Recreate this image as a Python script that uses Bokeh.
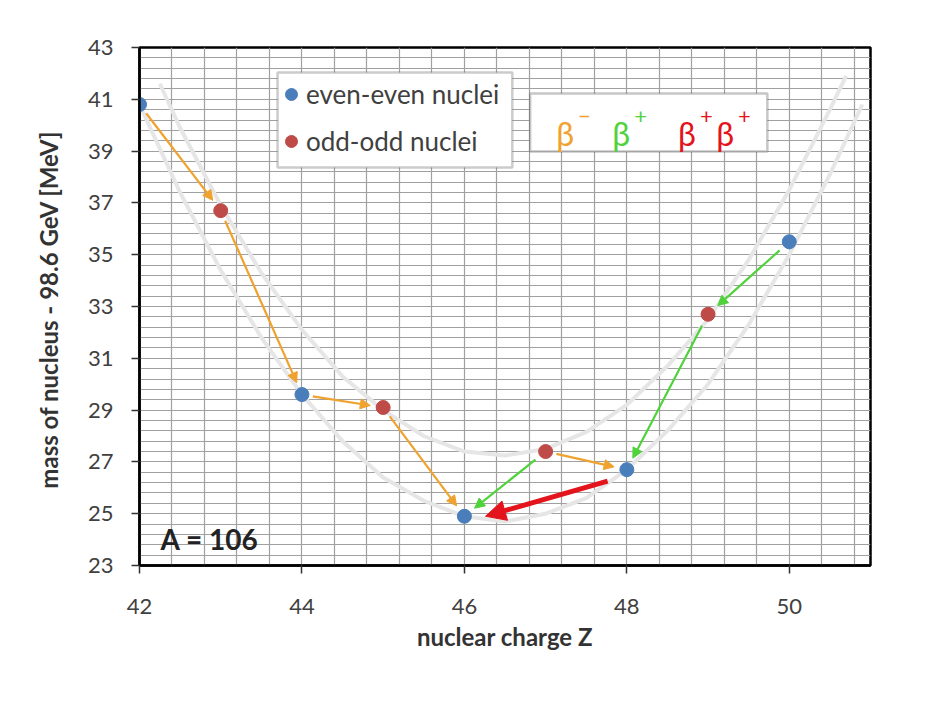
import math
from bokeh.plotting import figure
from bokeh.models import (Arrow, NormalHead, BoxAnnotation, Label, Legend, LegendItem,
                          FixedTicker, Range1d)
from bokeh.embed import file_html
from bokeh.resources import INLINE

# ---------------- data ----------------
even_Z = [42, 44, 46, 48, 50]
even_M = [40.8, 29.6, 24.9, 26.7, 35.5]
odd_Z = [43, 45, 47, 49]
odd_M = [36.7, 29.1, 27.4, 32.7]

# guide curves
curve_even_Z = [42.0, 42.5, 43.0, 43.5, 44.0, 44.5, 45.0, 45.5, 46.0, 46.5, 47.0, 47.5,
                48.0, 48.5, 49.0, 49.5, 50.0, 50.5, 50.9]
curve_even_M = [40.8, 37.4, 34.4, 31.8, 29.6, 27.8, 26.4, 25.5, 24.9, 24.7, 25.0, 25.6,
                26.7, 28.2, 30.0, 32.3, 35.0, 38.1, 40.8]
curve_odd_Z = [42.25, 42.5, 43.0, 43.5, 44.0, 44.5, 45.0, 45.5, 46.0, 46.5, 47.0, 47.5,
               48.0, 48.5, 49.0, 49.5, 50.0, 50.5, 50.7]
curve_odd_M = [41.6, 39.9, 36.9, 34.3, 32.1, 30.3, 29.0, 28.0, 27.4, 27.25, 27.5, 28.15,
               29.2, 30.7, 32.5, 34.8, 37.5, 40.6, 41.9]

beta_minus = [(42, 43), (43, 44), (44, 45), (45, 46), (47, 48)]
beta_plus = [(47, 46), (49, 48), (50, 49)]
double_beta = [(48, 46)]

x_ticks = [42, 44, 46, 48, 50]
y_ticks = [23, 25, 27, 29, 31, 33, 35, 37, 39, 41, 43]

mass = dict(zip(even_Z + odd_Z, even_M + odd_M))

# ---------------- figure ----------------
X0, X1, Y0, Y1 = 42, 51, 23, 43
FW, FH = 731, 518
p = figure(width=925, height=712, output_backend="svg", toolbar_location=None,
           x_range=Range1d(X0, X1), y_range=Range1d(Y0, Y1),
           min_border_left=139, min_border_right=55, min_border_top=47, min_border_bottom=147)
p.background_fill_color = "white"
p.border_fill_color = "white"
p.outline_line_color = "black"
p.outline_line_width = 2.5

FONT = "Lato"
p.xaxis.ticker = FixedTicker(ticks=x_ticks)
p.yaxis.ticker = FixedTicker(ticks=y_ticks)
p.xgrid.ticker = FixedTicker(ticks=[42 + 0.4 * i for i in range(23)])
p.ygrid.ticker = FixedTicker(ticks=[23 + 0.4 * i for i in range(51)])
for g in (p.xgrid, p.ygrid):
    g.grid_line_color = "#a0a0a0"
    g.grid_line_width = 1.2

for ax in (p.xaxis, p.yaxis):
    ax.axis_line_color = "black"
    ax.axis_line_width = 2.5
    ax.major_tick_line_color = "#333333"
    ax.major_tick_line_width = 1.5
    ax.major_tick_out = 8
    ax.major_tick_in = 0
    ax.minor_tick_out = 0
    ax.minor_tick_in = 0
    ax.major_label_text_font = FONT
    ax.major_label_text_font_size = "22px"
    ax.major_label_text_color = "#404040"
    ax.axis_label_text_font = FONT
    ax.axis_label_text_font_style = "bold"
    ax.axis_label_text_font_size = "24px"
    ax.axis_label_text_color = "#333333"

p.xaxis.axis_label = "nuclear charge Z"
p.yaxis.axis_label = "mass of nucleus - 98.6  GeV [MeV]"
p.xaxis.major_label_standoff = 25
p.yaxis.major_label_standoff = 18
p.xaxis.axis_label_standoff = 5
p.yaxis.axis_label_standoff = 22

# guide curves
p.line(curve_even_Z, curve_even_M, line_color="#e6e6e6", line_width=4)
p.line(curve_odd_Z, curve_odd_M, line_color="#e6e6e6", line_width=4)

# arrows
sx = FW / (X1 - X0)
sy = FH / (Y1 - Y0)


def add_arrows(pairs, color, width, head, a, b, dy_px=0.0):
    for z0, z1 in pairs:
        m0, m1 = mass[z0], mass[z1]
        dx = (z1 - z0) * sx
        dyy = (m1 - m0) * sy
        L = math.hypot(dx, dyy)
        ux, uy = dx / L, dyy / L
        xs = z0 + a * ux / sx
        ys = m0 + a * uy / sy - dy_px / sy
        xe = z1 - b * ux / sx
        ye = m1 - b * uy / sy - dy_px / sy
        p.add_layout(Arrow(x_start=xs, y_start=ys, x_end=xe, y_end=ye,
                           line_color=color, line_width=width,
                           end=NormalHead(size=head, fill_color=color, line_color=color)))


ORANGE = "#EFA22E"
GREEN = "#4FD23A"
RED = "#E3141B"
add_arrows(beta_minus, ORANGE, 2.2, 10, 11, 13)
add_arrows(beta_plus, GREEN, 2.2, 10, 13, 13)
add_arrows(double_beta, RED, 5, 20, 20, 22, dy_px=6)

# points
r_even = p.scatter(even_Z, even_M, size=14, fill_color="#4A7EBB", line_color="#4A7EBB")
r_odd = p.scatter(odd_Z, odd_M, size=14, fill_color="#BE4B48", line_color="#BE4B48")

# legend box + legend
p.add_layout(BoxAnnotation(left=43.70, right=46.59, bottom=38.37, top=42.03,
                           fill_color="white", fill_alpha=1.0,
                           line_color="#555555", line_width=2.5, level="annotation"))
legend = Legend(items=[LegendItem(label="even-even nuclei", renderers=[r_even]),
                       LegendItem(label="odd-odd nuclei", renderers=[r_odd])],
                location=(137, 408), padding=0, spacing=15,
                glyph_width=30, glyph_height=30, label_height=30, label_standoff=0,
                label_text_font=FONT, label_text_font_size="26px",
                label_text_color="#404040",
                border_line_alpha=0, background_fill_alpha=0)
p.add_layout(legend)

# beta box
p.add_layout(BoxAnnotation(left=46.81, right=49.73, bottom=38.98, top=41.22,
                           fill_color="white", fill_alpha=1.0,
                           line_color="#444444", line_width=2.5, level="annotation"))
# β symbols and their superscript signs
beta_texts = [("β", 47.13, ORANGE), ("−", 47.40, ORANGE),
              ("β", 47.82, GREEN), ("+", 48.09, GREEN),
              ("β", 48.63, RED), ("+", 48.90, RED),
              ("β", 49.10, RED), ("+", 49.37, RED)]
for txt, xx, col in beta_texts:
    if txt == "β":
        p.add_layout(Label(x=xx, y=39.68, text=txt, text_color=col, text_font=FONT,
                           text_font_size="32px", text_baseline="alphabetic"))
    else:
        p.add_layout(Label(x=xx, y=40.34, text=txt, text_color=col, text_font=FONT,
                           text_font_size="22px", text_baseline="alphabetic"))

p.add_layout(Label(x=42.26, y=24.04, text="A = 106", text_font=FONT, text_font_style="bold",
                   text_font_size="28px", text_color="#222222", text_baseline="middle"))

open("out.html", "w").write(file_html(p, INLINE))
